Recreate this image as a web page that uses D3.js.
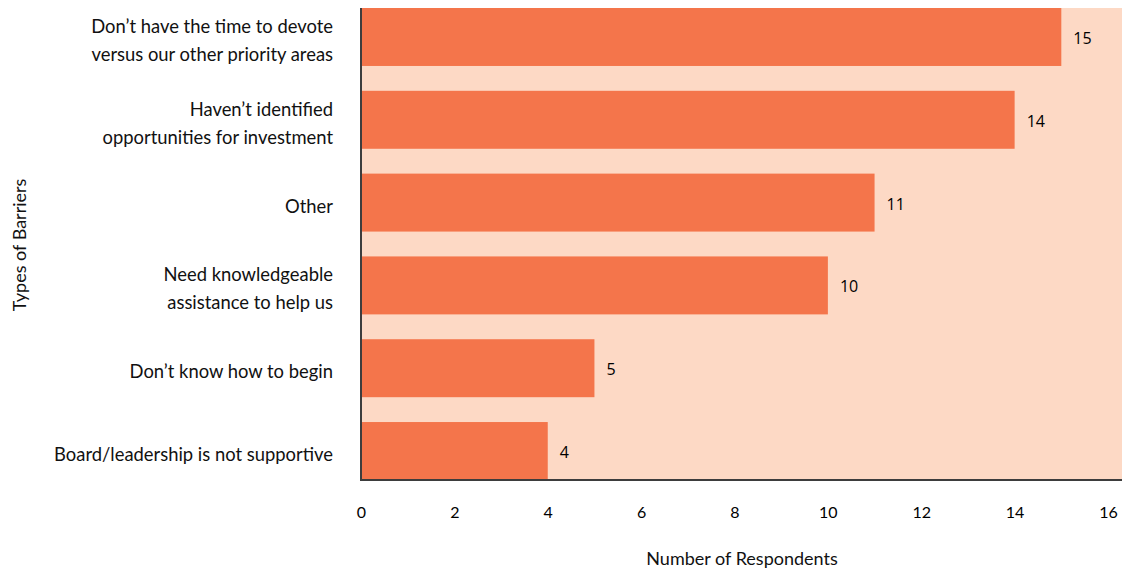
<!DOCTYPE html>
<html><head><meta charset="utf-8">
<script src="https://cdn.jsdelivr.net/npm/d3@7"></script>
<style>body{margin:0;background:#fff}svg{display:block}</style>
</head><body><svg id="c" width="1137" height="572"></svg>
<script>
const categories = [
  ["Don\u2019t have the time to devote","versus our other priority areas"],
  ["Haven\u2019t identified","opportunities for investment"],
  ["Other"],
  ["Need knowledgeable","assistance to help us"],
  ["Don\u2019t know how to begin"],
  ["Board/leadership is not supportive"]
];
const values = [15, 14, 11, 10, 5, 4];
const xTicks = [0, 2, 4, 6, 8, 10, 12, 14, 16];
const xTitle = "Number of Respondents";
const yTitle = "Types of Barriers";

(function () {
const svg = d3.select("#c");
const pl = 361, pr = 1122, pt = 8, pb = 480;
const x = d3.scaleLinear().domain([0, 16]).range([pl, 1108]);
const y = d3.scaleBand().domain(d3.range(categories.length)).range([pt, pb]).paddingInner(0.3).paddingOuter(0);

const font = "Lato, 'Noto Sans', sans-serif";
svg.append("rect").attr("x", pl).attr("y", pt).attr("width", pr - pl).attr("height", pb - pt).attr("fill", "#FDD9C5");

svg.selectAll("rect.bar").data(values).join("rect").attr("class", "bar")
  .attr("x", x(0)).attr("y", (d, i) => y(i)).attr("width", d => x(d) - x(0)).attr("height", y.bandwidth())
  .attr("fill", "#F4754B");

svg.selectAll("text.val").data(values).join("text").attr("class", "val")
  .attr("x", d => x(d) + 12).attr("y", (d, i) => y(i) + y.bandwidth() / 2 + 7)
  .attr("font-family", "'Open Sans', sans-serif").attr("font-size", 16).attr("fill", "#000").text(d => d);

svg.append("line").attr("x1", pl).attr("x2", pl).attr("y1", pt).attr("y2", pb + 1).attr("stroke", "#3d3d3d").attr("stroke-width", 2);
svg.append("line").attr("x1", pl).attr("x2", pr).attr("y1", pb).attr("y2", pb).attr("stroke", "#3d3d3d").attr("stroke-width", 2);

const xAxis = svg.append("g").attr("transform", `translate(0,${pb})`)
  .call(d3.axisBottom(x).tickValues(xTicks).tickSize(0).tickPadding(27));
xAxis.select(".domain").remove();
xAxis.selectAll("text").attr("font-family", font).attr("font-size", 16).attr("fill", "#000");

const lab = svg.selectAll("text.cat").data(categories).join("text").attr("class", "cat")
  .attr("text-anchor", "end").attr("font-family", font).attr("font-size", 18.4).attr("fill", "#111");
lab.each(function (lines, i) {
  const cy = y(i) + y.bandwidth() / 2;
  const lh = 28;
  const start = cy - (lines.length - 1) * lh / 2 + 10;
  d3.select(this).selectAll("tspan").data(lines).join("tspan")
    .attr("x", 333).attr("y", (d, j) => start + j * lh).text(d => d);
});

svg.append("text").attr("x", 742).attr("y", 565).attr("text-anchor", "middle")
  .attr("font-family", font).attr("font-size", 18).attr("fill", "#111").text(xTitle);
svg.append("text").attr("transform", "translate(26,245) rotate(-90)").attr("text-anchor", "middle")
  .attr("font-family", font).attr("font-size", 18).attr("fill", "#111").text(yTitle);
})();
</script></body></html>
